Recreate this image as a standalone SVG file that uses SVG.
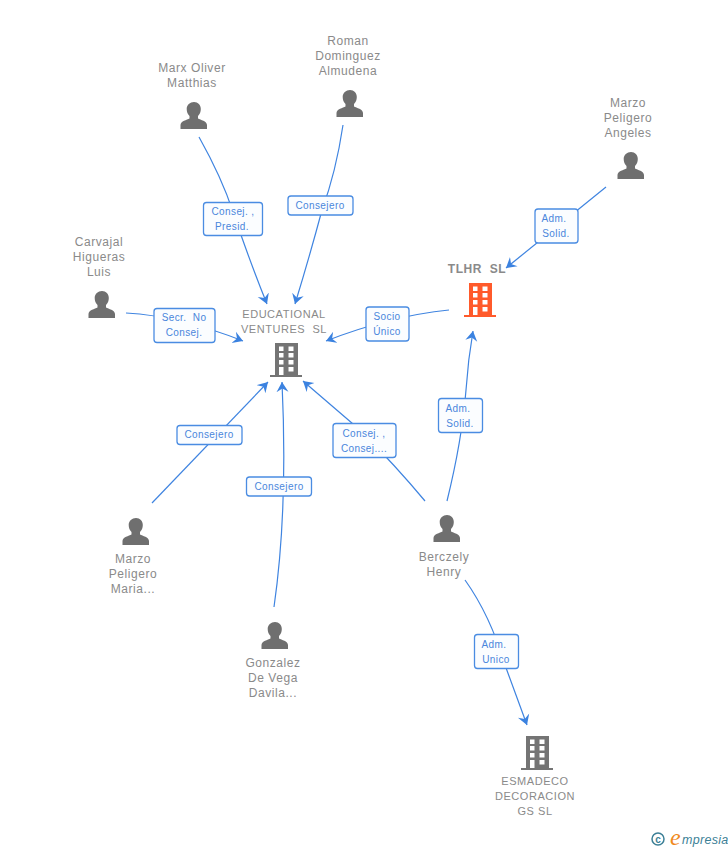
<svg xmlns="http://www.w3.org/2000/svg" width="728" height="850" viewBox="0 0 728 850">
<style>
text{font-family:"Liberation Sans",Arial,sans-serif;white-space:pre}
.n{font-size:12px;fill:#8a8a8a;text-anchor:middle;letter-spacing:.55px}
.c{font-size:11px;fill:#8a8a8a;text-anchor:middle;letter-spacing:.55px}
.b{font-weight:bold;font-size:12px}
.l{font-size:10px;fill:#4a86dc;text-anchor:middle;letter-spacing:.4px}
.e{fill:none;stroke:#3f84e0;stroke-width:1.2}
.r{fill:#fbfdff;stroke:#4a8ce2;stroke-width:1.3}
</style>
<defs>
<marker id="a" markerUnits="userSpaceOnUse" markerWidth="14" markerHeight="14" refX="10" refY="6.500" orient="auto"><path d="M0 0.500L10 6.500L0 12.500L3.500 6.500Z" fill="#3b82e0"/></marker>
<symbol id="p" width="28" height="28" viewBox="0 0 28 28" overflow="visible"><path fill="#6f6f6f" d="M14 0c4 0 6.800 3 6.800 7 0 3-1 5-2.800 7v2.500c2.500 1.500 9 2.500 9 6.500v4H0.500v-4c0-4 6.500-5 9-6.500V14c-1.800-2-2.800-4-2.800-7 0-4 3.300-7 7.300-7z"/></symbol>
<symbol id="g" width="32" height="34" viewBox="0 0 32 34" overflow="visible"><path fill-rule="evenodd" d="M5 0h23v32h4v2H0v-2h5zM9 3.500v4.500h4.500V3.500zM18.500 3.500v4.500h5V3.500zM9 10v4.500h4.500V10zM18.500 10v4.500h5V10zM9 17v4.500h4.500V17zM18.500 17v4.500h5V17zM9 24v8h4.500v-8zM18.500 24v4.500h5V24z"/></symbol>
</defs>
<g id="connectors">
<path class="e" marker-end="url(#a)" d="M199 137Q222 178 233 212Q250 262 267 304"/>
<path class="e" marker-end="url(#a)" d="M343 125Q336 172 322 210Q310 255 295 304"/>
<path class="e" marker-end="url(#a)" d="M126 313Q180 316 243 341"/>
<path class="e" marker-end="url(#a)" d="M449 310Q390 316 326 341"/>
<path class="e" marker-end="url(#a)" d="M606 187L506 268"/>
<path class="e" marker-end="url(#a)" d="M447 501Q462 440 466 390Q468 360 473 331"/>
<path class="e" marker-end="url(#a)" d="M152 503L268 382"/>
<path class="e" marker-end="url(#a)" d="M274 607Q288 510 282 382"/>
<path class="e" marker-end="url(#a)" d="M425 501Q395 465 360 430L303 381"/>
<path class="e" marker-end="url(#a)" d="M465 580Q490 615 505 665L527 725"/>
</g>
<g id="edge-labels">
<g><rect class="r" x="203.500" y="202.500" width="59" height="33" rx="3"/><text class="l" x="233" y="215">Consej. ,</text><text class="l" x="232" y="230">Presid.</text></g>
<g><rect class="r" x="288" y="196" width="65" height="19" rx="3"/><text class="l" x="320" y="209">Consejero</text></g>
<g><rect class="r" x="154" y="308.500" width="61" height="34" rx="3"/><text class="l" x="184" y="321">Secr.  No</text><text class="l" x="184" y="336">Consej.</text></g>
<g><rect class="r" x="366" y="307" width="43" height="34" rx="3"/><text class="l" x="387" y="320">Socio</text><text class="l" x="387" y="335">Único</text></g>
<g><rect class="r" x="535" y="209" width="43" height="34" rx="3"/><text class="l" x="554" y="222">Adm.</text><text class="l" x="556" y="237">Solid.</text></g>
<g><rect class="r" x="438.500" y="398.500" width="44" height="34" rx="3"/><text class="l" x="458" y="412">Adm.</text><text class="l" x="460" y="427">Solid.</text></g>
<g><rect class="r" x="177" y="425.500" width="65" height="19" rx="3"/><text class="l" x="209" y="438">Consejero</text></g>
<g><rect class="r" x="246.500" y="477" width="65" height="19" rx="3"/><text class="l" x="279" y="490">Consejero</text></g>
<g><rect class="r" x="333" y="423.500" width="63" height="34" rx="3"/><text class="l" x="364" y="437">Consej. ,</text><text class="l" x="364" y="452">Consej....</text></g>
<g><rect class="r" x="474.500" y="634.500" width="44" height="34" rx="3"/><text class="l" x="494" y="648">Adm.</text><text class="l" x="496" y="663">Unico</text></g>
</g>
<g id="node-marx"><text class="n" x="192" y="72">Marx Oliver</text><text class="n" x="192" y="87">Matthias</text><use href="#p" x="180" y="102"/></g>
<g id="node-roman"><text class="n" x="348" y="45">Roman</text><text class="n" x="348" y="60">Dominguez</text><text class="n" x="348" y="75">Almudena</text><use href="#p" x="336" y="90"/></g>
<g id="node-angeles"><text class="n" x="628" y="107">Marzo</text><text class="n" x="628" y="122">Peligero</text><text class="n" x="628" y="137">Angeles</text><use href="#p" x="617" y="152"/></g>
<g id="node-carvajal"><text class="n" x="99" y="246">Carvajal</text><text class="n" x="99" y="261">Higueras</text><text class="n" x="99" y="276">Luis</text><use href="#p" x="88" y="291"/></g>
<g id="node-educational"><text class="c" x="284" y="318">EDUCATIONAL</text><text class="c" x="284" y="333">VENTURES  SL</text><use href="#g" x="270" y="343" fill="#747474"/></g>
<g id="node-tlhr"><text class="n b" x="477" y="273">TLHR  SL</text><use href="#g" x="464" y="283" fill="#ff5a2b"/></g>
<g id="node-maria"><use href="#p" x="122" y="518"/><text class="n" x="133" y="563">Marzo</text><text class="n" x="133" y="578">Peligero</text><text class="n" x="133" y="593">Maria...</text></g>
<g id="node-gonzalez"><use href="#p" x="261" y="622"/><text class="n" x="273" y="667">Gonzalez</text><text class="n" x="273" y="682">De Vega</text><text class="n" x="273" y="697">Davila...</text></g>
<g id="node-berczely"><use href="#p" x="433" y="515"/><text class="n" x="444" y="561">Berczely</text><text class="n" x="444" y="576">Henry</text></g>
<g id="node-esmadeco"><use href="#g" x="521" y="736" fill="#747474"/><text class="c" x="535" y="785">ESMADECO</text><text class="c" x="535" y="800">DECORACION</text><text class="c" x="535" y="815">GS SL</text></g>
<g id="brand"><circle cx="658" cy="839" r="6" fill="none" stroke="#3c7f96" stroke-width="1.500"/><text x="658" y="842.500" font-size="10" font-weight="bold" fill="#3c7f96" text-anchor="middle">c</text><text x="670" y="845" font-size="24" font-style="italic" fill="#f08a1d" style="font-family:'Liberation Serif',serif">e</text><text x="682" y="844" font-size="12.500" font-style="italic" fill="#3c7f96" letter-spacing=".3">mpresia</text></g>
</svg>
